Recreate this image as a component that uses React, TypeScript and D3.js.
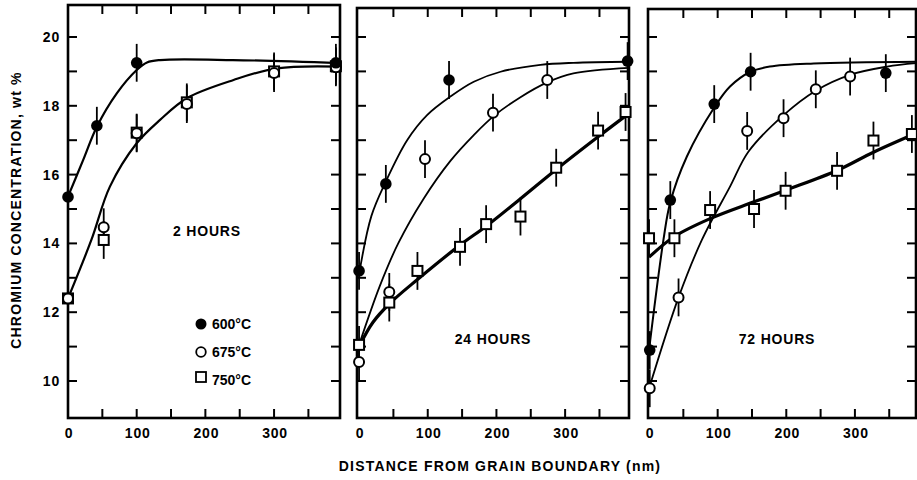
import React from "react";
import * as d3 from "d3";

// ---------- DATA ----------
const X_TICK_LABELS = [0, 100, 200, 300];
const X_MINOR_TICKS = [0, 50, 100, 150, 200, 250, 300, 350];
const Y_TICK_LABELS = [10, 12, 14, 16, 18, 20];
const Y_MINOR_TICKS = [10, 11, 12, 13, 14, 15, 16, 17, 18, 19, 20];
const PANEL_LABELS = ["2 HOURS", "24 HOURS", "72 HOURS"];
const TEMPERATURES = ["600\u00B0C", "675\u00B0C", "750\u00B0C"];
const Y_TITLE = "CHROMIUM CONCENTRATION, wt %";
const X_TITLE = "DISTANCE FROM GRAIN BOUNDARY (nm)";
const ERR = 0.55;

// 2 hours – measured points
const h2_600_x = [0, 42, 100, 390];
const h2_600_y = [15.35, 17.42, 19.25, 19.25];
const h2_675_x = [0, 52, 100, 173, 300, 390];
const h2_675_y = [12.4, 14.47, 17.2, 18.05, 18.95, 19.12];
const h2_750_x = [0, 52, 100, 173, 300, 390];
const h2_750_y = [12.4, 14.1, 17.22, 18.1, 19.0, 19.15];
// 2 hours – fitted curves
const h2_fit600_x = [0, 22, 42, 71, 100, 115, 134, 240, 396];
const h2_fit600_y = [15.36, 16.42, 17.39, 18.36, 19.04, 19.26, 19.33, 19.33, 19.24];
const h2_fit675_x = [0, 34, 61, 100, 134, 173, 241, 304, 396];
const h2_fit675_y = [12.4, 14.1, 15.65, 16.91, 17.59, 18.22, 18.75, 19.09, 19.14];

// 24 hours – measured points
const h24_600_x = [0, 39, 131, 391];
const h24_600_y = [13.2, 15.73, 18.75, 19.3];
const h24_675_x = [0, 44, 96, 195, 274];
const h24_675_y = [10.55, 12.59, 16.45, 17.8, 18.75];
const h24_750_x = [0, 44, 85, 147, 185, 235, 287, 348, 388];
const h24_750_y = [11.05, 12.28, 13.2, 13.9, 14.56, 14.78, 16.2, 17.28, 17.82];
// 24 hours – fitted curves
const h24_fit600_x = [0, 18, 39, 70, 99, 133, 167, 206, 264, 312, 393];
const h24_fit600_y = [13.1, 14.8, 15.8, 17.0, 17.73, 18.27, 18.7, 18.99, 19.19, 19.25, 19.28];
const h24_fit675_x = [0, 30, 57, 94, 133, 167, 196, 235, 274, 312, 393];
const h24_fit675_y = [11.05, 12.75, 14.0, 15.3, 16.4, 17.15, 17.7, 18.25, 18.68, 18.94, 19.1];
const h24_fit750_x = [0, 20, 45, 85, 147, 185, 235, 287, 348, 393];
const h24_fit750_y = [11.0, 11.7, 12.26, 12.95, 13.95, 14.5, 15.3, 16.15, 17.1, 17.78];

// 72 hours – measured points
const h72_600_x = [1, 31, 95, 148, 345];
const h72_600_y = [10.9, 15.26, 18.05, 18.99, 18.95];
const h72_675_x = [1, 43, 143, 196, 243, 293];
const h72_675_y = [9.79, 12.43, 17.27, 17.64, 18.48, 18.85];
const h72_750_x = [0, 37, 89, 153, 199, 274, 327, 383];
const h72_750_y = [14.15, 14.15, 14.97, 15.0, 15.53, 16.11, 16.99, 17.18];
// 72 hours – fitted curves
const h72_fit600_x = [0, 21, 31, 55, 95, 118, 148, 176, 240, 389];
const h72_fit600_y = [10.9, 14.1, 15.2, 16.52, 17.95, 18.56, 18.99, 19.14, 19.23, 19.28];
const h72_fit675_x = [0, 43, 77, 118, 145, 196, 243, 293, 347, 389];
const h72_fit675_y = [9.78, 12.43, 14.1, 15.65, 16.67, 17.73, 18.44, 18.9, 19.14, 19.24];
const h72_fit750_x = [0, 37, 89, 152, 201, 274, 327, 389];
const h72_fit750_y = [13.6, 14.2, 14.72, 15.2, 15.56, 16.12, 16.65, 17.2];

// ---------- LAYOUT ----------
const FONT = "'Liberation Sans', Arial, Helvetica, sans-serif";
const Y_BOTTOM = 418;

type Pts = { xs: number[]; ys: number[] };
type Fit = Pts & { width: number };
type PanelDef = {
  label: string;
  px0: number;
  px1: number;
  dmin: number;
  dmax: number;
  top: number;
  labelX: number;
  labelY: number;
  s600: Pts;
  s675: Pts;
  s750: Pts;
  fits: Fit[];
  showYLabels: boolean;
};

const panels: PanelDef[] = [
  {
    label: PANEL_LABELS[0], px0: 68, px1: 340, dmin: 0, dmax: 396, top: 5,
    labelX: 207, labelY: 236,
    s600: { xs: h2_600_x, ys: h2_600_y },
    s675: { xs: h2_675_x, ys: h2_675_y },
    s750: { xs: h2_750_x, ys: h2_750_y },
    fits: [
      { xs: h2_fit600_x, ys: h2_fit600_y, width: 2.2 },
      { xs: h2_fit675_x, ys: h2_fit675_y, width: 2.2 },
    ],
    showYLabels: true,
  },
  {
    label: PANEL_LABELS[1], px0: 357, px1: 629, dmin: -3, dmax: 393, top: 8,
    labelX: 493, labelY: 344,
    s600: { xs: h24_600_x, ys: h24_600_y },
    s675: { xs: h24_675_x, ys: h24_675_y },
    s750: { xs: h24_750_x, ys: h24_750_y },
    fits: [
      { xs: h24_fit600_x, ys: h24_fit600_y, width: 1.8 },
      { xs: h24_fit675_x, ys: h24_fit675_y, width: 1.8 },
      { xs: h24_fit750_x, ys: h24_fit750_y, width: 3.2 },
    ],
    showYLabels: false,
  },
  {
    label: PANEL_LABELS[2], px0: 648, px1: 916, dmin: -1.5, dmax: 389, top: 9,
    labelX: 777, labelY: 344,
    s600: { xs: h72_600_x, ys: h72_600_y },
    s675: { xs: h72_675_x, ys: h72_675_y },
    s750: { xs: h72_750_x, ys: h72_750_y },
    fits: [
      { xs: h72_fit600_x, ys: h72_fit600_y, width: 2.0 },
      { xs: h72_fit675_x, ys: h72_fit675_y, width: 1.8 },
      { xs: h72_fit750_x, ys: h72_fit750_y, width: 3.2 },
    ],
    showYLabels: false,
  },
];

const y = d3.scaleLinear().domain([10, 20]).range([381, 37]);

function Panel({ p }: { p: PanelDef }) {
  const x = d3.scaleLinear().domain([p.dmin, p.dmax]).range([p.px0, p.px1]);
  const line = d3
    .line<[number, number]>()
    .x((d) => x(d[0]))
    .y((d) => y(d[1]))
    .curve(d3.curveCatmullRom.alpha(0.5));
  const tick = 9;
  const pts = (s: Pts) => s.xs.map((v, i) => [v, s.ys[i]] as [number, number]);
  const errBars = (s: Pts, key: string) =>
    pts(s).map(([a, b], i) => (
      <line key={key + i} x1={x(a)} x2={x(a)} y1={y(b - ERR)} y2={y(b + ERR)} stroke="#000" strokeWidth={1.8} />
    ));
  return (
    <g>
      <rect x={p.px0} y={p.top} width={p.px1 - p.px0} height={Y_BOTTOM - p.top} fill="none" stroke="#000" strokeWidth={2.6} />
      {X_MINOR_TICKS.filter((t) => x(t) > p.px0 + 3 && x(t) < p.px1 - 3).map((t) => (
        <g key={"xt" + t}>
          <line x1={x(t)} x2={x(t)} y1={Y_BOTTOM} y2={Y_BOTTOM - tick} stroke="#000" strokeWidth={2} />
          <line x1={x(t)} x2={x(t)} y1={p.top} y2={p.top + tick} stroke="#000" strokeWidth={2} />
        </g>
      ))}
      {X_TICK_LABELS.map((t) => (
        <text key={"xl" + t} x={x(t) + 1} y={438} textAnchor="middle" fontFamily={FONT} fontWeight="bold" fontSize={14} letterSpacing={0.8}>
          {t}
        </text>
      ))}
      {Y_MINOR_TICKS.map((t) => (
        <g key={"yt" + t}>
          <line x1={p.px0} x2={p.px0 + tick} y1={y(t)} y2={y(t)} stroke="#000" strokeWidth={2} />
          <line x1={p.px1} x2={p.px1 - tick} y1={y(t)} y2={y(t)} stroke="#000" strokeWidth={2} />
        </g>
      ))}
      {p.showYLabels &&
        Y_TICK_LABELS.map((t) => (
          <text key={"yl" + t} x={60} y={y(t) + 5} textAnchor="end" fontFamily={FONT} fontWeight="bold" fontSize={14} letterSpacing={0.8}>
            {t}
          </text>
        ))}
      {p.fits.map((f, i) => (
        <path key={"f" + i} d={line(pts(f)) || ""} fill="none" stroke="#000" strokeWidth={f.width} />
      ))}
      {errBars(p.s750, "e750")}
      {errBars(p.s675, "e675")}
      {errBars(p.s600, "e600")}
      {pts(p.s750).map(([a, b], i) => (
        <rect key={"m750" + i} x={x(a) - 5} y={y(b) - 5} width={10} height={10} fill="#fff" stroke="#000" strokeWidth={2} />
      ))}
      {pts(p.s675).map(([a, b], i) => (
        <circle key={"m675" + i} cx={x(a)} cy={y(b)} r={5} fill="#fff" stroke="#000" strokeWidth={2} />
      ))}
      {pts(p.s600).map(([a, b], i) => (
        <circle key={"m600" + i} cx={x(a)} cy={y(b)} r={5.8} fill="#000" />
      ))}
      <text x={p.labelX} y={p.labelY} textAnchor="middle" fontFamily={FONT} fontWeight="bold" fontSize={14} letterSpacing={0.8}>
        {p.label}
      </text>
    </g>
  );
}

export default function App() {
  const legendY = [324, 352, 380];
  return (
    <svg width={917} height={480} style={{ position: "absolute", left: 0, top: 0, background: "#fff" }}>
      <rect x={0} y={0} width={917} height={480} fill="#fff" />
      {panels.map((p, i) => (
        <Panel key={i} p={p} />
      ))}
      <circle cx={201} cy={legendY[0]} r={5.5} fill="#000" />
      <circle cx={201} cy={legendY[1]} r={4.8} fill="#fff" stroke="#000" strokeWidth={1.8} />
      <rect x={196} y={legendY[2] - 8} width={10} height={10} fill="#fff" stroke="#000" strokeWidth={1.8} />
      {TEMPERATURES.map((t, i) => (
        <text key={t} x={212} y={legendY[i] + 5} fontFamily={FONT} fontWeight="bold" fontSize={14}>
          {t}
        </text>
      ))}
      <text
        transform={`translate(21, 210) rotate(-90)`}
        textAnchor="middle"
        fontFamily={FONT}
        fontWeight="bold"
        fontSize={14}
        letterSpacing={1.2}
      >
        {Y_TITLE}
      </text>
      <text x={500} y={471} textAnchor="middle" fontFamily={FONT} fontWeight="bold" fontSize={14} letterSpacing={1.2}>
        {X_TITLE}
      </text>
    </svg>
  );
}
